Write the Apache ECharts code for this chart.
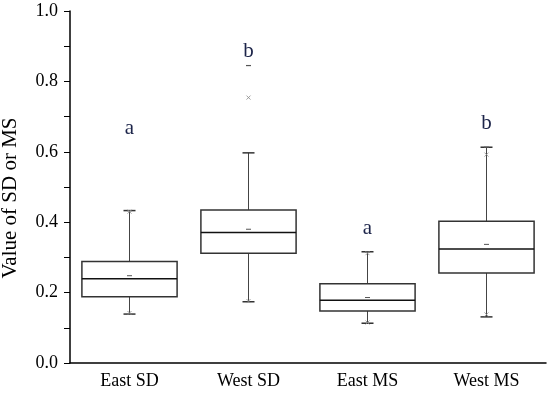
<!DOCTYPE html>
<html>
<head>
<meta charset="utf-8">
<script src="https://cdn.jsdelivr.net/npm/echarts@6/dist/echarts.min.js"></script>
<style>html,body{margin:0;padding:0;background:#fff}#c{width:550px;height:395px}</style>
</head>
<body>
<div id="c"></div>
<script>
const categories = ['East SD', 'West SD', 'East MS', 'West MS'];
const whiskerLow = [0.139, 0.174, 0.113, 0.131];
const q1 = [0.188, 0.312, 0.148, 0.256];
const median = [0.239, 0.371, 0.178, 0.324];
const q3 = [0.288, 0.435, 0.225, 0.403];
const whiskerHigh = [0.433, 0.597, 0.316, 0.613];
const means = [0.248, 0.380, 0.186, 0.337];
const p1 = [0.142, 0.176, 0.115, 0.138];
const p99 = [0.430, 0.754, 0.312, 0.592];
const maxVals = [0.433, 0.845, 0.316, 0.613];
const letters = ['a', 'b', 'a', 'b'];
const letterPos = [0.636, 0.855, 0.352, 0.651];
const yTicks = [0, 0.2, 0.4, 0.6, 0.8, 1.0];

const FONT = '"Liberation Serif", "Times New Roman", serif';
const chart = echarts.init(document.getElementById('c'), null, {renderer: 'canvas'});

const boxData = categories.map((c, i) => [i, whiskerLow[i], q1[i], median[i], q3[i], whiskerHigh[i], means[i], p1[i], p99[i], maxVals[i]]);
const letterData = categories.map((c, i) => [i, letterPos[i], letters[i]]);

function crossAt(x, y, s, color) {
  return [
    {type: 'line', shape: {x1: x - s, y1: y - s, x2: x + s, y2: y + s}, style: {stroke: color, lineWidth: 0.8}},
    {type: 'line', shape: {x1: x - s, y1: y + s, x2: x + s, y2: y - s}, style: {stroke: color, lineWidth: 0.8}}
  ];
}

const option = {
  backgroundColor: '#fff',
  animation: false,
  grid: {left: 70, right: 4, top: 11, bottom: 32, containLabel: false, outerBoundsMode: 'none'},
  xAxis: {
    type: 'category',
    data: categories,
    boundaryGap: true,
    axisLine: {lineStyle: {color: '#000', width: 1.5}},
    axisTick: {alignWithLabel: true, length: 6, lineStyle: {color: '#000', width: 1}},
    axisLabel: {color: '#000', fontFamily: FONT, fontSize: 18, margin: 9},
    splitLine: {show: false}
  },
  yAxis: {
    type: 'value',
    min: 0, max: 1, interval: 0.2,
    name: 'Value of SD or MS',
    nameLocation: 'middle',
    nameGap: 49,
    nameTextStyle: {color: '#000', fontFamily: FONT, fontSize: 21, padding: [0, 22, 0, 0]},
    axisLine: {show: true, lineStyle: {color: '#000', width: 1.5}},
    axisTick: {show: true, length: 6, lineStyle: {color: '#000', width: 1}},
    minorTick: {show: true, splitNumber: 2, length: 6, lineStyle: {color: '#000', width: 1}},
    axisLabel: {color: '#000', fontFamily: FONT, fontSize: 18, margin: 12,
      formatter: v => v.toFixed(1)},
    splitLine: {show: false}
  },
  series: [
    {
      type: 'custom',
      data: boxData,
      encode: {x: 0, y: [1, 2, 3, 4, 5]},
      renderItem: function (params, api) {
        const i = api.value(0);
        const w = api.size([1, 0])[0] * 0.8;
        const cx = api.coord([i, 0])[0];
        const y = k => api.coord([i, api.value(k)])[1];
        const yLo = y(1), yQ1 = y(2), yMed = y(3), yQ3 = y(4), yHi = y(5), yMean = y(6), yP1 = y(7), yP99 = y(8), yMax = y(9);
        const cap = 6;
        const dark = '#333';
        const children = [
          {type: 'line', shape: {x1: cx, y1: yQ3, x2: cx, y2: yHi}, style: {stroke: '#444', lineWidth: 1}},
          {type: 'line', shape: {x1: cx, y1: yQ1, x2: cx, y2: yLo}, style: {stroke: '#444', lineWidth: 1}},
          {type: 'line', shape: {x1: cx - cap, y1: yHi, x2: cx + cap, y2: yHi}, style: {stroke: dark, lineWidth: 1.5}},
          {type: 'line', shape: {x1: cx - cap, y1: yLo, x2: cx + cap, y2: yLo}, style: {stroke: dark, lineWidth: 1.5}},
          {type: 'rect', shape: {x: cx - w / 2, y: yQ3, width: w, height: yQ1 - yQ3}, style: {fill: '#fff', stroke: dark, lineWidth: 1.5}},
          {type: 'line', shape: {x1: cx - w / 2, y1: yMed, x2: cx + w / 2, y2: yMed}, style: {stroke: '#111', lineWidth: 1.5}},
          {type: 'line', shape: {x1: cx - 2.5, y1: yMean, x2: cx + 2.5, y2: yMean}, style: {stroke: '#555', lineWidth: 1}},
          {type: 'line', shape: {x1: cx - 2.5, y1: yMax, x2: cx + 2.5, y2: yMax}, style: {stroke: '#555', lineWidth: 1.2}}
        ];
        children.push(...crossAt(cx, yP1, 2, '#888'));
        children.push(...crossAt(cx, yP99, 2, '#888'));
        return {type: 'group', children: children};
      },
      z: 2
    },
    {
      type: 'custom',
      data: letterData,
      encode: {x: 0, y: 1},
      renderItem: function (params, api) {
        const p = api.coord([api.value(0), api.value(1)]);
        return {
          type: 'text',
          style: {
            text: letters[params.dataIndex],
            x: p[0], y: p[1],
            align: 'center', verticalAlign: 'bottom',
            fontFamily: FONT, fontSize: 21, fill: '#1c2449'
          }
        };
      },
      z: 3
    }
  ]
};
chart.setOption(option);
</script>
</body>
</html>
